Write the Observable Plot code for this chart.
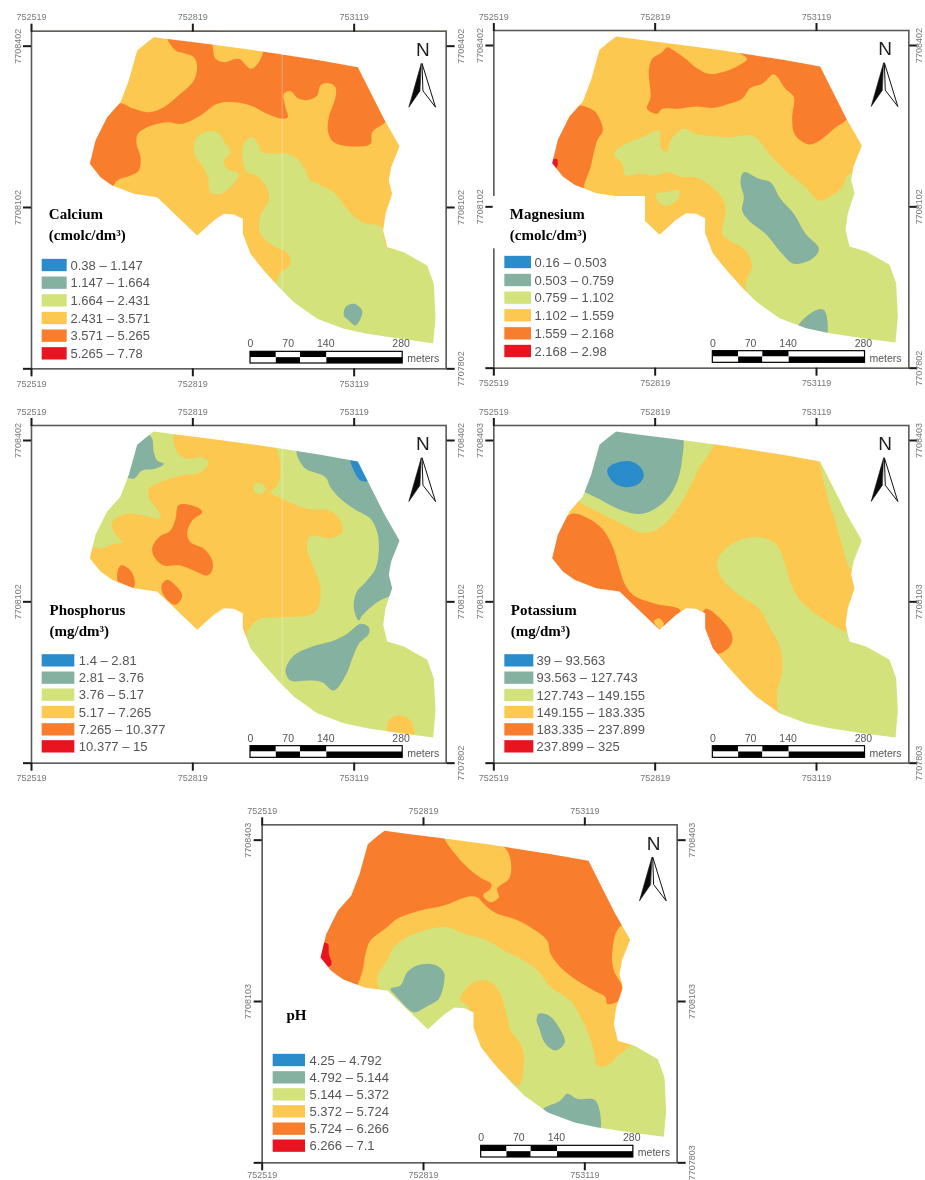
<!DOCTYPE html>
<html><head><meta charset="utf-8">
<script src="https://cdn.jsdelivr.net/npm/d3@7"></script>
<script src="https://cdn.jsdelivr.net/npm/@observablehq/plot@0.6"></script>
<style>
html,body{margin:0;padding:0;background:#fff}
#page{position:relative;width:925px;height:1180px;overflow:hidden}
#page svg{position:absolute;filter:blur(.4px)}
</style></head><body><div id="page"></div>
<script>
// Zone colours, lowest class to highest class
const BLUE="#2b8ccb",TEAL="#85b1a1",LIME="#d3e27b",GOLD="#fdc84f",ORANGE="#f87d2c",RED="#e8141f";
const classColors=[BLUE,TEAL,LIME,GOLD,ORANGE,RED];
const eastTicks=[752519,752819,753119];
const scaleBreaks=[0,48,93,142,283];
const scaleLabels=[0,70,140,280];

// Field outline (picture readings, 3 per screen pixel)
const fieldOutline=[[460,110],[520,118],[640,133],[780,152],[845,162],[960,180],[1072,200],[1150,355],[1197,437],[1172,500],[1165,540],[1175,580],[1155,640],[1148,690],[1160,740],[1210,755],[1280,795],[1300,850],[1305,950],[1298,1028],[1200,1015],[1100,1000],[1030,985],[950,955],[880,905],[840,865],[790,810],[750,760],[727,700],[727,655],[700,642],[670,640],[640,660],[590,705],[470,590],[400,580],[335,555],[300,530],[268,490],[285,420],[320,350],[360,305],[385,240],[410,150],[440,125]];
const arrowLeft=[[1262,190],[1225,320],[1258,272]];
const arrowRight=[[1265,190],[1305,320],[1268,272]];

const calciumLabels=["0.38 – 1.147","1.147 – 1.664","1.664 – 2.431","2.431 – 3.571","3.571 – 5.265","5.265 – 7.78"];
const calciumZones=[
[ORANGE,[[500,100],[1100,190],[1160,355],[1115,395],[1110,430],[1060,438],[1000,425],[983,395],[985,350],[1005,290],[1005,260],[985,248],[960,255],[950,285],[925,298],[895,295],[870,272],[850,280],[855,320],[862,350],[845,355],[800,340],[750,315],[700,305],[650,310],[600,345],[545,370],[500,365],[440,380],[412,400],[408,430],[420,470],[415,510],[390,525],[350,540],[330,565],[280,540],[250,490],[270,410],[310,340],[358,308],[400,325],[445,335],[490,320],[540,280],[580,240],[590,195],[580,170],[550,158],[525,150]]],
[GOLD,[[640,125],[785,145],[775,185],[750,205],[715,175],[670,185],[645,175],[638,150]]],
[LIME,[[625,392],[655,400],[672,425],[690,455],[670,480],[680,505],[715,520],[695,555],[660,580],[630,575],[622,530],[605,495],[580,455],[590,410]]],
[LIME,[[755,410],[772,430],[785,455],[860,460],[890,475],[915,510],[925,535],[960,555],[1000,575],[1035,620],[1085,665],[1145,680],[1150,720],[1165,745],[1230,750],[1300,790],[1320,850],[1320,1050],[1100,1020],[950,975],[830,880],[835,825],[870,790],[860,755],[825,740],[780,700],[778,650],[790,625],[805,600],[800,565],[775,530],[735,510],[730,430]]],
[TEAL,[[1035,920],[1060,910],[1085,930],[1080,955],[1065,975],[1045,960],[1030,945]]]
];

const magnesiumLabels=["0.16 – 0.503","0.503 – 0.759","0.759 – 1.102","1.102 – 1.559","1.559 – 2.168","2.168 – 2.98"];
const magnesiumZones=[
[ORANGE,[[815,150],[1080,180],[1150,345],[1105,385],[1070,415],[1035,432],[1005,420],[985,395],[980,350],[985,290],[960,265],[925,222],[890,250],[855,262],[830,295],[790,310],[745,322],[690,318],[640,325],[590,325],[575,340],[545,325],[555,290],[550,210],[560,175],[590,155],[605,140],[625,150],[660,175],[690,200],[730,220],[770,215],[820,195],[845,175]]],
[ORANGE,[[340,315],[385,330],[400,350],[412,390],[395,420],[375,500],[360,540],[345,575],[290,550],[240,490],[265,400],[310,330]]],
[RED,[[258,480],[273,475],[277,490],[270,505]]],
[LIME,[[445,460],[480,430],[530,410],[580,390],[585,440],[605,455],[615,420],[655,385],[690,400],[780,410],[860,405],[885,425],[910,460],[960,510],[1020,560],[1060,600],[1090,590],[1130,560],[1150,520],[1190,540],[1190,580],[1160,640],[1150,700],[1165,735],[1310,780],[1320,1050],[1095,1020],[950,970],[840,860],[860,795],[835,745],[800,725],[770,700],[780,640],[775,600],[740,560],[690,530],[650,530],[610,515],[570,525],[520,520],[480,525],[470,490]]],
[LIME,[[570,580],[600,575],[640,570],[640,590],[610,615],[585,610]]],
[TEAL,[[835,515],[880,535],[915,545],[945,595],[985,640],[1020,700],[1060,745],[1040,775],[985,790],[950,760],[900,700],[850,660],[830,630],[835,590],[825,545]]],
[TEAL,[[995,985],[1040,935],[1075,928],[1082,1010],[1040,1000]]]
];

const phosphorusLabels=["1.4 – 2.81","2.81 – 3.76","3.76 – 5.17","5.17 – 7.265","7.265 – 10.377","10.377 – 15"];
const phosphorusZones=[
[GOLD,[[525,105],[815,145],[840,235],[830,270],[810,290],[825,300],[920,340],[985,345],[1020,375],[1025,410],[985,428],[945,420],[925,425],[920,460],[945,530],[960,575],[945,650],[850,665],[780,670],[745,700],[735,735],[710,720],[700,640],[590,720],[470,605],[335,565],[250,490],[280,455],[300,460],[340,445],[365,440],[340,410],[335,380],[380,355],[450,365],[480,370],[475,350],[445,305],[445,280],[480,260],[540,240],[600,230],[625,200],[600,185],[560,190],[530,170]]],
[LIME,[[760,265],[785,265],[795,280],[785,295],[765,292]]],
[TEAL,[[440,115],[455,130],[460,170],[470,195],[490,205],[465,220],[425,225],[400,250],[375,240],[395,190],[410,130]]],
[TEAL,[[890,160],[1075,180],[1215,437],[1190,520],[1180,590],[1130,620],[1085,660],[1075,675],[1060,640],[1068,590],[1095,560],[1125,520],[1135,460],[1130,410],[1110,370],[1060,340],[1020,310],[990,275],[975,245],[910,215]]],
[BLUE,[[1050,190],[1075,190],[1105,255],[1080,255],[1060,225]]],
[TEAL,[[1080,685],[1105,695],[1105,715],[1075,745],[1055,790],[1040,830],[1000,885],[965,860],[925,855],[870,855],[855,825],[880,780],[930,755],[1000,735],[1040,715]]],
[GOLD,[[1165,975],[1195,960],[1225,970],[1240,1000],[1235,1035],[1165,1025]]],
[ORANGE,[[535,328],[590,335],[605,350],[575,375],[560,415],[570,440],[610,460],[635,495],[635,525],[620,540],[580,525],[540,510],[490,510],[465,490],[455,460],[475,425],[510,405],[525,370]]],
[ORANGE,[[360,510],[385,520],[400,545],[400,575],[365,578],[350,550]]],
[ORANGE,[[500,553],[525,570],[545,600],[525,628],[490,600],[483,570]]]
];

const potassiumLabels=["39 – 93.563","93.563 – 127.743","127.743 – 149.155","149.155 – 183.335","183.335 – 237.899","237.899 – 325"];
const potassiumZones=[
[LIME,[[450,90],[745,130],[700,220],[660,300],[620,360],[570,405],[520,410],[470,385],[400,350],[335,310],[340,270],[390,130]]],
[TEAL,[[440,90],[645,115],[650,190],[630,270],[590,325],[530,355],[470,345],[400,310],[345,275],[375,235],[390,130]]],
[BLUE,[[425,225],[445,205],[495,197],[525,215],[535,240],[520,265],[480,275],[445,262]]],
[LIME,[[1062,185],[1210,437],[1175,500],[1155,520],[1130,450],[1110,380],[1085,300]]],
[LIME,[[755,500],[775,465],[820,435],[880,425],[930,445],[950,480],[975,560],[1000,610],[1050,655],[1130,705],[1145,710],[1165,735],[1310,790],[1320,1050],[1095,1020],[950,965],[935,890],[950,830],[945,760],[915,700],[880,640],[810,590],[770,550]]],
[ORANGE,[[320,355],[370,370],[410,400],[440,450],[465,530],[480,570],[505,600],[570,625],[645,645],[610,700],[595,705],[565,690],[510,650],[465,605],[375,590],[320,565],[240,490],[265,410]]],
[GOLD,[[565,678],[580,668],[595,685],[585,700]]],
[ORANGE,[[720,640],[770,675],[800,720],[795,750],[760,775],[740,770],[705,705]]]
];

const phLabels=["4.25 – 4.792","4.792 – 5.144","5.144 – 5.372","5.372 – 5.724","5.724 – 6.266","6.266 – 7.1"];
const phZones=[
[GOLD,[[200,100],[1340,100],[1340,755],[1215,760],[1170,790],[1130,825],[1100,825],[1090,780],[1070,720],[1045,670],[1020,630],[960,590],[925,545],[880,510],[820,480],[770,450],[700,430],[650,410],[580,420],[530,440],[490,470],[470,510],[440,560],[445,610],[200,610]]],
[ORANGE,[[365,600],[395,545],[405,490],[420,450],[470,410],[500,385],[570,360],[640,345],[715,318],[740,320],[765,345],[800,370],[850,385],[900,410],[950,450],[960,490],[990,530],[1040,570],[1090,600],[1125,620],[1130,640],[1165,630],[1175,590],[1150,540],[1145,490],[1172,405],[1340,405],[1340,105],[200,105],[200,600]]],
[GOLD,[[640,130],[805,160],[835,190],[838,260],[800,295],[805,320],[780,335],[758,315],[780,295],[782,280],[750,262],[700,220]]],
[GOLD,[[745,570],[780,575],[805,600],[830,680],[840,720],[870,760],[880,800],[865,885],[820,850],[770,810],[715,735],[715,690],[715,650],[690,630],[705,595]]],
[TEAL,[[560,525],[610,522],[640,545],[640,580],[625,625],[585,650],[550,665],[500,620],[480,595],[510,585],[530,545]]],
[TEAL,[[925,670],[955,675],[985,710],[1003,755],[975,780],[945,760],[925,710],[918,690]]],
[TEAL,[[935,960],[990,930],[1010,910],[1040,925],[1095,930],[1105,1030],[1040,1015],[1000,1000]]],
[RED,[[275,458],[292,460],[295,490],[303,522],[285,530],[260,500],[275,480]]]
];

// Sheet geometry: frame readings in the picture, svg box on the page
const metresPerReading=300/484;
const panels=[
 {zones:calciumZones,base:GOLD,labels:calciumLabels,title:["Calcium","(cmolc/dm³)"],titleAt:[145,642,703],legend:{x0:125,x1:200,tx:210,y:[795,848,901,954,1007,1060]},north:7707802,origin:[0,0],box:[0,0,470,395],L:93,T:92,R:1337,B:1105,seam:845,bottomPad:4,rightPad:10},
 {zones:magnesiumZones,base:GOLD,labels:magnesiumLabels,title:["Magnesium","(cmolc/dm³)"],titleAt:[133,642,703],legend:{x0:118,x1:198,tx:207,y:[786,840,893,946,1000,1053]},north:7707802,origin:[465,0],box:[470,0,455,395],L:85,T:90,R:1330,B:1103,patch:[85,540,588,745],bottomPad:3.5,rightPad:5.5},
 {zones:phosphorusZones,base:LIME,labels:phosphorusLabels,title:["Phosphorus","(mg/dm³)"],titleAt:[147,645,707],legend:{x0:125,x1:223,tx:235,y:[796,848,899,951,1003,1054]},north:7707802,origin:[0,395],box:[0,395,470,395],L:93,T:90,R:1337,B:1103,seam:845,bottomPad:3.5,rightPad:10},
 {zones:potassiumZones,base:GOLD,labels:potassiumLabels,title:["Potassium","(mg/dm³)"],titleAt:[136,645,707],legend:{x0:118,x1:205,tx:213,y:[796,848,900,951,1003,1054]},north:7707803,origin:[465,395],box:[470,395,455,395],L:85,T:90,R:1330,B:1103,bottomPad:3.5,rightPad:5.5},
 {zones:phZones,base:LIME,labels:phLabels,title:["pH"],titleAt:[168,675],legend:{x0:128,x1:225,tx:237,y:[810,862,913,964,1016,1067]},north:7707803,origin:[230,790],box:[230,790,480,390],L:95,T:103,R:1340,B:1117,bottomPad:1,rightPad:10}
];

function drawPanel(p){
  const E=z=>eastTicks[0]+(z-p.L)*metresPerReading;
  const N=z=>p.north+(p.B-z)*metresPerReading;
  const dx=p.L-93,dy=p.T-92;                       // shift of shared readings
  const pts=(a,sx=0,sy=0)=>a.map(([x,y])=>({e:E(x+sx),n:N(y+sy)}));
  const xd=[E(p.L),E(p.R)],yd=[N(p.B),N(p.T)];
  const northTicks=[p.north,p.north+300,p.north+600];
  const [bl,bt,bw,bh]=p.box;
  const marginLeft=p.origin[0]+p.L/3-bl, marginTop=p.origin[1]+p.T/3-bt;
  const marginRight=bw-marginLeft-(p.R-p.L)/3, marginBottom=bh-marginTop-(p.B-p.T)/3;
  const poly=(a,fill,curve)=>Plot.line(a,{x:"e",y:"n",fill,stroke:"none",curve,clip:"frame"});
  const marks=[];
  marks.push(Plot.rect([0],{x1:xd[0],x2:xd[1],y1:yd[0],y2:yd[1],fill:p.base}));
  for(const [fill,ring] of p.zones) marks.push(poly(pts(ring),fill,"catmull-rom-closed"));
  if(p.seam) marks.push(Plot.ruleX([E(p.seam)],{stroke:"#fff",strokeOpacity:.35,strokeWidth:1}));
  // white outside the field: the sheet corners, then the outline wound the other way
  const outline=pts(fieldOutline,dx,dy);
  const corners=[[xd[0],yd[1]],[xd[1],yd[1]],[xd[1],yd[0]],[xd[0],yd[0]],[xd[0],yd[1]]].map(([e,n])=>({e,n}));
  marks.push(poly([...corners,outline[0],...outline.slice().reverse()],"#fff","linear"));
  marks.push(Plot.frame({stroke:"#5a5a5a",strokeWidth:1.6}));
  const axisStyle={tickSize:8,tickPadding:3,tickFormat:"d",stroke:"#1a1a1a",strokeWidth:2,fill:"#777",fontSize:9,fontFamily:"Liberation Sans",label:null};
  marks.push(Plot.axisX(eastTicks,{anchor:"top",...axisStyle}));
  marks.push(Plot.axisX(eastTicks,{anchor:"bottom",...axisStyle,tickPadding:p.bottomPad}));
  // the left side labels only the two upper northings, the right side all three
  marks.push(Plot.axisY(northTicks,{anchor:"left",tickRotate:-90,textAnchor:"middle",...axisStyle,tickFormat:d=>d===p.north?"":String(d)}));
  marks.push(Plot.axisY(northTicks,{anchor:"right",tickRotate:-90,textAnchor:"middle",...axisStyle,tickPadding:p.rightPad}));
  if(p.patch){const [a,b,c,d]=p.patch;marks.push(Plot.rect([0],{x1:E(a-2),x2:E(b),y1:N(d),y2:N(c),fill:"#fff"}));}
  // north arrow
  marks.push(Plot.line(pts(arrowRight,dx,dy),{x:"e",y:"n",fill:"#fff",stroke:"#111",strokeWidth:1,curve:"linear-closed"}));
  marks.push(Plot.line(pts(arrowLeft,dx,dy),{x:"e",y:"n",fill:"#0b0b0b",stroke:"#0b0b0b",strokeWidth:.6,curve:"linear-closed"}));
  marks.push(Plot.text(["N"],{x:E(1267+dx),y:N(148+dy),fontSize:19,fill:"#1d1d1d",fontFamily:"Liberation Sans",lineAnchor:"middle"}));
  // scale bar, metres from its left end
  const barE=E(p.L+657),barS=N(p.B-16),barH=35*metresPerReading;
  scaleBreaks.slice(0,-1).forEach((m,i)=>{
    const x1=barE+m,x2=barE+scaleBreaks[i+1];
    marks.push(Plot.rect([0],{x1,x2,y1:barS+barH/2,y2:barS+barH,fill:i%2?"#fff":"#000",inset:0}));
    marks.push(Plot.rect([0],{x1,x2,y1:barS,y2:barS+barH/2,fill:i%2?"#000":"#fff",inset:0}));
  });
  marks.push(Plot.rect([0],{x1:barE,x2:barE+scaleBreaks[4],y1:barS,y2:barS+barH,fill:"none",stroke:"#000",strokeWidth:1.2}));
  marks.push(Plot.text(scaleLabels,{x:d=>barE+d,y:N(p.B-75),text:d=>String(d),fontSize:10.5,fill:"#555",fontFamily:"Liberation Sans",lineAnchor:"middle"}));
  marks.push(Plot.text(["meters"],{x:barE+470*metresPerReading,y:N(p.B-30),textAnchor:"start",fontSize:10.5,fill:"#555",fontFamily:"Liberation Sans",lineAnchor:"middle"}));
  // legend
  const lg=p.legend;
  p.labels.forEach((label,i)=>{
    const yc=lg.y[i];
    marks.push(Plot.rect([0],{x1:E(lg.x0),x2:E(lg.x1),y1:N(yc+18.5),y2:N(yc-18.5),fill:classColors[i]}));
  });
  marks.push(Plot.text(p.labels,{x:E(lg.tx),y:(d,i)=>N(lg.y[i]),text:d=>d,textAnchor:"start",lineAnchor:"middle",fontSize:13,fill:"#555",fontFamily:"Liberation Sans"}));
  // title
  marks.push(Plot.text(p.title,{x:E(p.titleAt[0]),y:(d,i)=>N(p.titleAt[i+1]),text:d=>d,textAnchor:"start",lineAnchor:"middle",fontSize:15,fontWeight:"bold",fill:"#000",fontFamily:"Liberation Serif"}));

  const svg=Plot.plot({width:bw,height:bh,marginLeft,marginTop,marginRight,marginBottom,
    x:{domain:xd,axis:null},y:{domain:yd,axis:null},
    style:{background:"transparent",overflow:"visible"},marks});
  svg.style.left=bl+"px";svg.style.top=bt+"px";
  document.getElementById("page").appendChild(svg);
}
panels.forEach(drawPanel);
</script></body></html>
